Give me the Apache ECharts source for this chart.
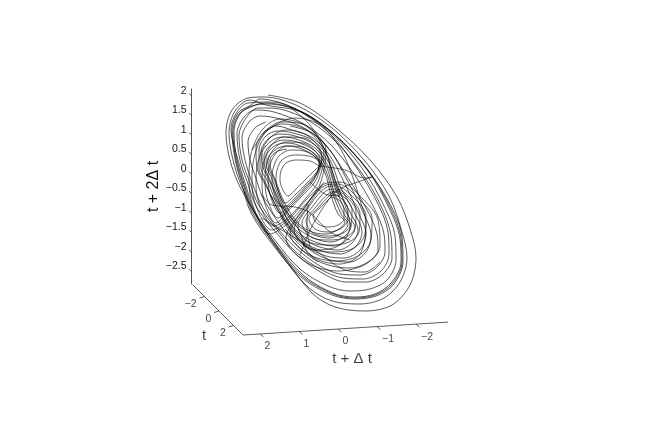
<!DOCTYPE html>
<html><head><meta charset="utf-8">
<style>html,body{margin:0;padding:0;background:#fff}#c{width:664px;height:439px}</style>
<script src="https://cdn.jsdelivr.net/npm/echarts@6/dist/echarts.min.js"></script>
</head><body><div id="c"></div>
<script>
// Tick values on the three axes
const zTicks = [2,1.5,1,0.5,0,-0.5,-1,-1.5,-2,-2.5];
const deltaTicks = [2,1,0,-1,-2];
const tTicks = [-2,0,2];
// Trajectory, in projection-plane units
const outerLoops = [
 [[78,79],[110,71],[145,47],[180,14],[207,-23],[221,-58],[226,-84],[220,-111],[202,-131],[175,-137],[145,-133],[122,-119],[95,-84],[72,-50],[50,-13],[40,14],[36,41],[42,64],[58,76]],
 [[74,77],[108,68],[142,46],[174,14],[199,-22],[212,-58],[217,-84],[210,-108],[194,-124],[170,-130],[142,-127],[118,-113],[92,-82],[70,-48],[52,-13],[43,14],[39,41],[45,63],[60,74]],
 [[76,69],[111,62],[145,39],[178,4],[200,-33],[211,-64],[212,-88],[202,-110],[185,-121],[165,-124],[143,-120],[112,-102],[84,-70],[62,-38],[54,-13],[46,14],[43,42],[49,60],[62,68]],
 [[77,70],[112,62],[146,38],[178,3],[199,-34],[210,-65],[211,-88],[201,-109],[185,-120],[165,-123],[143,-119],[113,-101],[85,-69],[63,-37],[55,-13],[47,14],[44,42],[50,60],[63,68]],
 [[75,71],[110,63],[144,40],[177,5],[201,-32],[212,-63],[213,-88],[203,-111],[186,-122],[165,-125],[142,-121],[111,-103],[83,-71],[61,-39],[53,-14],[45,15],[42,43],[48,61],[61,69]],
 [[70,75],[104,66],[140,42],[172,6],[194,-32],[205,-62],[206,-86],[197,-106],[180,-115],[160,-117],[138,-112],[110,-95],[84,-65],[64,-36],[56,-12],[48,14],[41,45],[47,62],[58,71]],
 [[82,72],[114,60],[144,36],[168,4],[188,-30],[198,-58],[199,-80],[191,-97],[173,-105],[153,-104],[132,-96],[106,-78],[84,-52],[68,-30],[60,-9],[52,14],[49,38],[56,56],[68,66]],
 [[80,66],[112,57],[142,36],[171,2],[191,-32],[201,-62],[202,-84],[193,-100],[176,-108],[156,-108],[134,-100],[108,-82],[84,-56],[66,-32],[58,-10],[50,14],[47,40],[54,57],[66,64]],
 [[84,62],[114,50],[140,30],[164,0],[184,-34],[194,-60],[195,-78],[186,-94],[170,-101],[150,-100],[130,-92],[106,-74],[84,-50],[70,-28],[62,-8],[55,14],[52,36],[59,52],[70,58]],
 [[90,55],[116,45],[138,26],[158,-4],[176,-34],[187,-60],[188,-76],[178,-88],[160,-94],[142,-92],[122,-84],[102,-66],[84,-42],[72,-22],[66,-4],[60,14],[58,32],[65,46],[76,52]]
];
const middleLoops = [
 [[100,48],[122,41],[140,24],[156,-4],[172,-36],[181,-62],[176,-78],[160,-88],[140,-86],[120,-76],[102,-58],[88,-36],[76,-12],[67,6],[66,26],[74,42],[86,48]],
 [[102,44],[123,36],[140,18],[154,-8],[168,-38],[176,-60],[170,-76],[154,-84],[136,-82],[116,-72],[100,-54],[86,-32],[76,-10],[69,6],[69,24],[76,38],[88,43]],
 [[103,41],[124,33],[140,14],[150,-12],[164,-38],[172,-58],[166,-72],[150,-80],[132,-77],[114,-68],[98,-50],[86,-28],[78,-8],[71,6],[71,22],[78,35],[90,40]],
 [[105,38],[125,29],[139,11],[148,-14],[161,-40],[168,-56],[162,-69],[148,-76],[130,-73],[112,-64],[98,-47],[88,-26],[79,-6],[73,7],[72,20],[80,32],[92,37]],
 [[106,35],[125,26],[138,8],[146,-16],[157,-40],[165,-54],[158,-65],[144,-72],[128,-69],[110,-60],[97,-44],[88,-24],[80,-6],[75,6],[74,18],[81,29],[94,34]],
 [[107,32],[125,23],[137,6],[144,-18],[154,-40],[161,-52],[155,-62],[141,-68],[126,-65],[110,-56],[98,-42],[89,-23],[82,-5],[77,6],[76,16],[83,27],[95,31]],
 [[108,29],[125,20],[136,3],[143,-20],[151,-40],[158,-50],[152,-59],[139,-64],[124,-61],[110,-53],[98,-39],[90,-22],[84,-5],[79,5],[78,15],[85,24],[96,28]],
 [[109,26],[124,18],[135,1],[141,-21],[148,-40],[155,-48],[149,-55],[136,-60],[122,-58],[109,-50],[99,-37],[91,-21],[85,-5],[81,4],[80,14],[86,22],[97,25]]
];
const upperLobe = [
 [[129,8],[120,13],[106,14],[96,11],[91,3],[90,-6],[93,-16],[98,-22],[106,-15],[116,-5],[126,5]],
 [[131,10],[119,18],[104,19],[92,14],[87,4],[86,-6],[89,-19],[95,-29],[106,-20],[117,-9],[128,4]],
 [[130,11],[117,22],[101,24],[89,18],[83,5],[82,-6],[85,-22],[93,-34],[104,-25],[115,-13],[127,1]],
 [[129,12],[115,26],[98,28],[86,21],[79,6],[78,-6],[81,-24],[90,-39],[102,-29],[114,-16],[126,-1]],
 [[130,14],[113,31],[96,32],[83,24],[76,7],[75,-8],[78,-27],[88,-44],[100,-33],[113,-19],[125,-4]],
 [[132,16],[114,36],[94,37],[80,27],[73,8],[72,-10],[75,-30],[86,-49],[98,-37],[112,-22],[126,-6]],
 [[132,18],[118,38],[96,44],[78,34],[68,12],[66,-10],[70,-32],[84,-52],[100,-42],[116,-24],[128,-8]],
 [[134,20],[118,43],[92,50],[74,40],[64,16],[62,-8],[66,-32],[82,-56],[98,-46],[116,-26],[130,-10]],
 [[136,24],[116,48],[90,55],[72,44],[61,20],[59,-6],[63,-32],[80,-60],[97,-50],[116,-30],[132,-12]]
];
const lowerLobe = [
 [[142,-23],[150,-27],[154,-36],[154,-45],[148,-51],[138,-53],[128,-50],[123,-42],[131,-33],[140,-24]],
 [[143,-20],[152,-25],[158,-36],[157,-48],[150,-55],[138,-58],[125,-55],[119,-45],[128,-34],[139,-22]],
 [[144,-18],[155,-24],[162,-36],[161,-51],[153,-59],[139,-62],[123,-59],[116,-47],[126,-33],[138,-20]],
 [[146,-17],[158,-24],[166,-38],[165,-54],[156,-63],[140,-66],[121,-63],[112,-49],[123,-32],[136,-17]],
 [[146,-15],[161,-25],[170,-40],[169,-58],[159,-68],[141,-71],[119,-68],[108,-52],[120,-31],[135,-14]],
 [[146,-12],[164,-24],[176,-42],[175,-60],[164,-74],[143,-78],[120,-74],[104,-56],[118,-32],[134,-12]],
 [[148,-10],[168,-24],[182,-44],[181,-66],[168,-82],[146,-87],[118,-80],[100,-60],[116,-32],[134,-10]],
 [[150,-8],[172,-24],[188,-46],[190,-72],[176,-90],[148,-97],[116,-88],[96,-64],[114,-34],[134,-8]]
];
const strayPaths = [
 [[100,67],[120,49],[135,24],[145,-6],[155,-31],[160,-51],[150,-71],[125,-76],[105,-64],[90,-41]],
 [[72,39],[90,52],[115,49],[135,24],[143,-4],[150,-22],[135,-20],[120,-8]],
 [[129,8],[155,4],[175,-4],[182,-3],[168,-8],[148,-16],[135,-31],[120,-56],[110,-81]],
 [[62,24],[78,44],[105,56],[130,49],[150,26],[162,-1],[170,-26],[176,-50],[170,-80],[150,-90],[125,-84],[95,-55]],
 [[72,-44],[95,-58],[125,-76],[155,-96],[175,-98],[190,-88]],
 [[80,-21],[95,-36],[110,-58],[116,-76],[128,-88]],
 [[72,-21],[82,-31],[105,-33],[120,-39],[140,-58],[160,-66]],
 [[118,-30],[117,-55],[120,-72]]
];
// Axis extents
const zRange = [-2.82,2.17];
const deltaRange = [2.436,-2.82];
const tRange = [-3.66,3.31];

const zScale = 39.07;
const floor = (v,t) => [53-39*(v-2.436)+7.25*(t-3.31), -161-2.45*(v-2.436)-7.25*(t-3.31)];
const gapped = segs => segs.flatMap((s,i)=> i? [[NaN,NaN],...s] : s);
const line = (data,extra) => Object.assign({type:'line',xAxisIndex:1,yAxisIndex:1,data,symbol:'none',silent:true,clip:false,
  lineStyle:{color:'#333',width:0.8}},extra||{});
const text = (x,y,s,size) => ({value:[x,y],name:s,label:{show:true,formatter:s,position:'inside',color:'#111',fontSize:size,fontFamily:'Liberation Sans'}});
const fmt = n => String(n).replace('-','\u2212');

const zTickSegs = zTicks.map(z=>[[1.5,zScale*z],[-1,zScale*z+2.5]]);
const deltaTickSegs = deltaTicks.map(v=>{const a=floor(v,tRange[1]);return [a,[a[0]+3.5,a[1]-3]];});
const tTickSegs = tTicks.map(t=>{const a=floor(deltaRange[0],t);return [a,[a[0]-5,a[1]-1.5]];});
const labels = [
  ...deltaTicks.map(v=>{const a=floor(v,tRange[1]);return text(a[0]+(v<0?11:7.5),a[1]-12.5,fmt(v),10.5);}),
  ...tTicks.map(t=>{const a=floor(deltaRange[0],t);return text(a[0]-(t<0?14:10.5),a[1]-8,fmt(t),10.5);}),
  text(162,-185,'t + \u0394 t',15),
  text(14,-162,'t',15)
];
const trajectory = (loops,w) => line(loops.flat(),{smooth:0.33,lineStyle:{color:'#000',width:w}});

const chart = echarts.init(document.getElementById('c'),null,{renderer:'canvas'});
chart.setOption({
  animation:false,
  backgroundColor:'#fff',
  grid:[
    {left:191.5,top:89,width:100,height:195},
    {left:0,top:0,width:664,height:439}
  ],
  xAxis:[
    {gridIndex:0,type:'value',show:false,min:0,max:1},
    {gridIndex:1,type:'value',show:false,min:-190,max:474}
  ],
  yAxis:[
    {gridIndex:0,type:'value',min:zRange[0],max:zRange[1],
     name:'t + 2\u0394 t',nameLocation:'middle',nameGap:29,nameRotate:90,
     nameTextStyle:{fontSize:16,color:'#111',fontFamily:'Liberation Sans'},
     axisLine:{show:true,onZero:false,lineStyle:{color:'#555',width:1}},
     axisTick:{show:false},splitLine:{show:false},
     axisLabel:{show:true,customValues:zTicks,margin:5,fontSize:10.5,color:'#111',fontFamily:'Liberation Sans',
       verticalAlign:'bottom',lineHeight:10,formatter:v=>fmt(v)}},
    {gridIndex:1,type:'value',show:false,min:-265,max:174}
  ],
  series:[
    {type:'line',xAxisIndex:0,yAxisIndex:0,data:[],symbol:'none'},
    line([floor(deltaRange[0],tRange[0]),floor(deltaRange[0],tRange[1]),floor(deltaRange[1],tRange[1])]),
    line(gapped(zTickSegs)),line(gapped(deltaTickSegs)),line(gapped(tTickSegs)),
    trajectory(outerLoops,0.65),
    trajectory(middleLoops,0.65),
    trajectory(upperLobe,0.6),
    trajectory(lowerLobe,0.6),
    ...strayPaths.map(s=>line(s,{smooth:0.33,lineStyle:{color:'#000',width:0.6}})),
    {type:'scatter',xAxisIndex:1,yAxisIndex:1,symbolSize:1,itemStyle:{color:'transparent'},silent:true,clip:false,data:labels}
  ]
});
</script></body></html>
